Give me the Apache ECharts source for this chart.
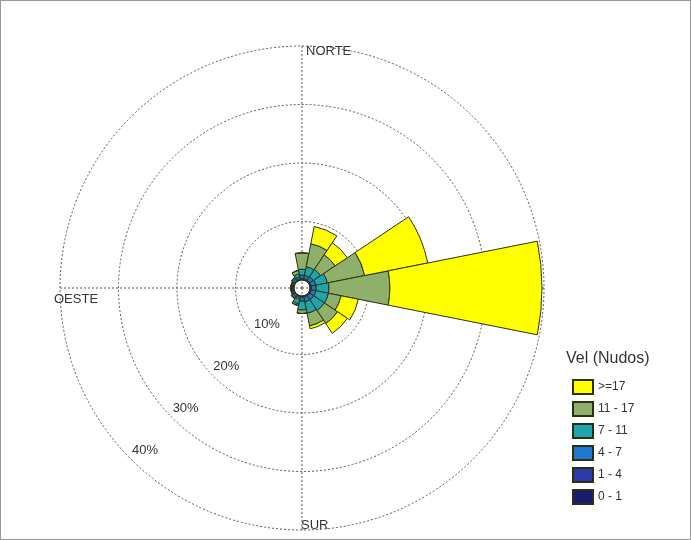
<!DOCTYPE html>
<html>
<head>
<meta charset="utf-8">
<title>rosa de vientos</title>
<script src="https://cdn.jsdelivr.net/npm/echarts@6/dist/echarts.min.js"></script>
<style>
    html, body { margin: 0; padding: 0; background: #fff; }
    #chart { width: 689px; height: 538px; border: 1px solid #999; }
</style>
</head>
<body>
<div id="chart"></div>
<script>
    // direcciones (sentido horario desde el norte)
    var directions = ['N', 'NNE', 'NE', 'ENE', 'E', 'ESE', 'SE', 'SSE', 'S', 'SSW', 'SW', 'WSW', 'W', 'WNW', 'NW', 'NNW'];
    var speedBins = ['0 - 1', '1 - 4', '4 - 7', '7 - 11', '11 - 17', '>=17'];
    var binColors = ['#1c1c6e', '#2b3aa8', '#1e78d0', '#1fa5b0', '#8fb06a', '#ffff00'];
    // % de frecuencia por clase de velocidad
    var v0_1   = [0.05, 0.05, 0.05, 0.05, 0.05, 0.05, 0.05, 0.05, 0.05, 0.05, 0.05, 0.05, 0.05, 0.05, 0.05, 0.05];
    var v1_4   = [0.2, 0.2, 0.2, 0.2, 0.2, 0.2, 0.2, 0.2, 0.15, 0.15, 0.1, 0.1, 0.1, 0.1, 0.15, 0.15];
    var v4_7   = [0.6, 0.6, 0.7, 0.8, 0.8, 0.8, 0.8, 0.8, 0.7, 0.4, 0.3, 0.2, 0.2, 0.2, 0.3, 0.4];
    var v7_11  = [1.0, 1.5, 1.5, 2.0, 2.2, 2.2, 2.2, 2.0, 1.5, 0.8, 0.3, 0.2, 0.2, 0.2, 0.3, 0.5];
    var v11_17 = [2.8, 4.0, 3.0, 6.5, 10.4, 2.2, 2.7, 2.2, 0.6, 0.3, 0.1, 0.0, 0.0, 0.0, 0.0, 0.6];
    var v17    = [0.0, 3.0, 2.5, 11.0, 26.0, 3.0, 2.0, 0.5, 0.0, 0.0, 0.0, 0.0, 0.0, 0.0, 0.0, 0.0];
    var binData = [v0_1, v1_4, v4_7, v7_11, v11_17, v17];
    var ringLabels = ['10%', '20%', '30%', '40%'];
    var compass = ['NORTE', 'ESTE', 'SUR', 'OESTE'];

    var chart = echarts.init(document.getElementById('chart'));
    var cx = 301, cy = 287, r0 = 8, r1 = 242;

    var series = speedBins.map(function (name, i) {
        return {
            name: name, type: 'bar', coordinateSystem: 'polar', polarIndex: 0,
            stack: 'v', barCategoryGap: 0, data: binData[i],
            itemStyle: { color: binColors[i], borderColor: '#2a3010', borderWidth: 1 }
        };
    });

    var graphic = [];
    ringLabels.forEach(function (t, i) {
        var r = r0 + (r1 - r0) * (i + 1) / 4 - 16;
        var a = 226 * Math.PI / 180;
        graphic.push({ type: 'text', x: cx + r * Math.cos(a), y: cy - r * Math.sin(a),
            style: { text: t, fill: '#333', font: '13px Arial', align: 'center', verticalAlign: 'middle' } });
    });
    graphic.push({ type: 'text', x: 305, y: 50, style: { text: compass[0], fill: '#333', font: '13px Arial', verticalAlign: 'middle' } });
    graphic.push({ type: 'text', x: 536, y: 298, style: { text: compass[1], fill: '#333', font: '13px Arial', align: 'right', verticalAlign: 'middle' } });
    graphic.push({ type: 'text', x: 300, y: 524, style: { text: compass[2], fill: '#333', font: '13px Arial', verticalAlign: 'middle' } });
    graphic.push({ type: 'text', x: 53, y: 298, style: { text: compass[3], fill: '#333', font: '13px Arial', verticalAlign: 'middle' } });
    graphic.push({ type: 'text', x: 565, y: 358, style: { text: 'Vel (Nudos)', fill: '#333', font: '16px Arial', verticalAlign: 'middle' } });

    chart.setOption({
        animation: false,
        polar: [
            { center: [cx, cy], radius: [r0, r1] },
            { center: [cx, cy], radius: [0, r1] }
        ],
        angleAxis: [
            { polarIndex: 0, type: 'category', data: directions, startAngle: 90 + 11.25,
              axisLine: { show: false }, axisTick: { show: false }, axisLabel: { show: false }, splitLine: { show: false } },
            { polarIndex: 1, type: 'category', data: compass, startAngle: 90,
              axisLine: { show: false }, axisTick: { show: false }, axisLabel: { show: false },
              splitLine: { show: true, lineStyle: { color: '#555', type: [2, 2], width: 1 } } }
        ],
        radiusAxis: [
            { polarIndex: 0, min: 0, max: 40, interval: 10,
              axisLine: { show: false }, axisTick: { show: false }, axisLabel: { show: false },
              splitLine: { show: true, lineStyle: { color: '#555', type: [2, 2], width: 1 } } },
            { polarIndex: 1, min: 0, max: 40, axisLine: { show: false }, axisTick: { show: false },
              axisLabel: { show: false }, splitLine: { show: false } }
        ],
        legend: {
            data: speedBins.slice().reverse(), orient: 'vertical', left: 566, top: 373,
            itemWidth: 20, itemHeight: 14, itemGap: 6, icon: 'rect',
            textStyle: { color: '#333', fontSize: 12, fontFamily: 'Arial' }
        },
        graphic: graphic,
        series: series
    });
</script>
</body>
</html>
